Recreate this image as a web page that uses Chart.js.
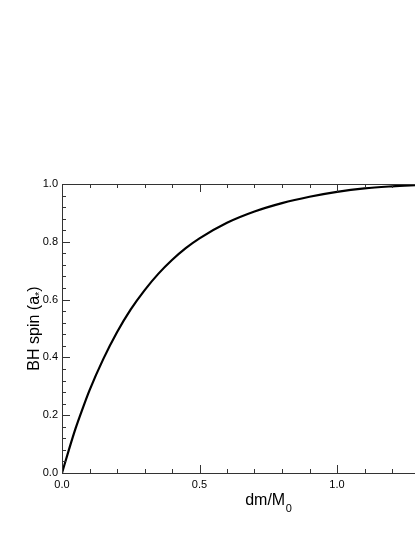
<!DOCTYPE html>
<html>
<head>
<meta charset="utf-8">
<script src="https://cdn.jsdelivr.net/npm/chart.js@4/dist/chart.umd.min.js"></script>
<style>
	html, body { margin:0; padding:0; background:#fff; overflow:hidden; }
	#wrap { width:475px; height:537px; }
</style>
</head>
<body>
<div id="wrap"><canvas id="spinChart" width="475" height="537"></canvas></div>
<script>
// accreted mass dm/M0 and resulting spin
var dmValues = [0, 0.025, 0.05, 0.075, 0.1, 0.15, 0.2, 0.25, 0.3, 0.35, 0.4, 0.45, 0.5, 0.6, 0.7, 0.8, 0.9, 1.0, 1.1, 1.2, 1.3];
var spinValues = [0, 0.08, 0.156, 0.223, 0.286, 0.394, 0.487, 0.566, 0.632, 0.689, 0.737, 0.778, 0.812, 0.866, 0.905, 0.934, 0.956, 0.973, 0.985, 0.992, 0.997];
var xTickLabels = ["0.0", "0.5", "1.0", "1.5"];
var yTickLabels = ["0.0", "0.2", "0.4", "0.6", "0.8", "1.0"];

var FONT = '"Liberation Sans", Arial, Helvetica, sans-serif';
var AXIS_COLOR = '#333';

//inward tick marks + frame + axis titles
var frameTicks = {
	id:'frameTicks',
	afterDraw:function (chart) {
		const ctx = chart.ctx;
		const a = chart.chartArea;
		const xs = chart.scales.x;
		const ys = chart.scales.y;
		ctx.save();
		ctx.strokeStyle = AXIS_COLOR;
		ctx.lineWidth = 1;
		ctx.beginPath();
		ctx.moveTo(a.left, a.top + 0.5);
		ctx.lineTo(a.right, a.top + 0.5);
		ctx.moveTo(a.right - 0.5, a.top);
		ctx.lineTo(a.right - 0.5, a.bottom);
		for (let i = 0; i <= 15; i++) {
			let px = Math.round(xs.getPixelForValue(i / 10)) + 0.5;
			let len = (i % 5 === 0) ? 8 : 4;
			ctx.moveTo(px, a.bottom);
			ctx.lineTo(px, a.bottom - len);
			ctx.moveTo(px, a.top);
			ctx.lineTo(px, a.top + len);
		}
		for (let i = 0; i <= 25; i++) {
			let py = Math.round(ys.getPixelForValue(i * 0.04)) + 0.5;
			let len = (i % 5 === 0) ? 8 : 4;
			ctx.moveTo(a.left, py);
			ctx.lineTo(a.left + len, py);
			ctx.moveTo(a.right, py);
			ctx.lineTo(a.right - len, py);
		}
		ctx.stroke();

		ctx.fillStyle = '#000';
		ctx.textBaseline = 'alphabetic';
		ctx.textAlign = 'left';
		//x title dm/M0
		ctx.font = '16px ' + FONT;
		let t1 = 'dm/M';
		let w1 = ctx.measureText(t1).width;
		ctx.font = '11px ' + FONT;
		let w2 = ctx.measureText('0').width;
		let cx = (a.left + a.right) / 2;
		let sx = cx - (w1 + w2) / 2;
		ctx.font = '16px ' + FONT;
		ctx.fillText(t1, sx, 505);
		ctx.font = '11px ' + FONT;
		ctx.fillText('0', sx + w1 + 0.5, 512);

		//y title BH spin (a*)
		ctx.translate(39, (a.top + a.bottom) / 2);
		ctx.rotate(-Math.PI / 2);
		ctx.font = '16px ' + FONT;
		let p1 = 'BH spin (a';
		let q1 = ctx.measureText(p1).width;
		let q3 = ctx.measureText(')').width;
		ctx.font = '11px ' + FONT;
		let q2 = ctx.measureText('*').width;
		let start = -(q1 + q2 + q3) / 2;
		ctx.font = '16px ' + FONT;
		ctx.fillText(p1, start, 0);
		ctx.font = '11px ' + FONT;
		ctx.fillText('*', start + q1, 4);
		ctx.font = '16px ' + FONT;
		ctx.fillText(')', start + q1 + q2, 0);
		ctx.restore();
	}
};

var points = dmValues.map(function (v, i) {
	return {x:v, y:spinValues[i]};
});

var ctx = document.getElementById('spinChart').getContext('2d');
var spinChart = new Chart(ctx, {
	type:'line',
	data:{
		datasets:[
			{
				data:points,
				borderColor:'#000',
				borderWidth:2.2,
				pointRadius:0,
				fill:false,
				cubicInterpolationMode:'monotone'
			}
		]
	},
	options:{
		responsive:false,
		animation:false,
		layout:{
			padding:{top:184, left:0, right:0.5, bottom:0}
		},
		plugins:{
			legend:{display:false},
			tooltip:{enabled:false}
		},
		scales:{
			x:{
				type:'linear',
				min:0,
				max:1.5,
				grid:{display:true, drawOnChartArea:false, drawTicks:false},
				border:{display:true, color:AXIS_COLOR, width:1},
				ticks:{
					stepSize:0.5,
					padding:5,
					color:'#000',
					font:{family:FONT, size:11},
					maxRotation:0,
					callback:function (v) {
						return xTickLabels[Math.round(v / 0.5)];
					}
				},
				afterFit:function (scale) {
					scale.height = 64;
					scale.paddingLeft = 0;
					scale.paddingRight = 0;
				}
			},
			y:{
				min:0,
				max:1,
				grid:{display:true, drawOnChartArea:false, drawTicks:false},
				border:{display:true, color:AXIS_COLOR, width:1},
				ticks:{
					stepSize:0.2,
					padding:4,
					color:'#000',
					font:{family:FONT, size:11},
					callback:function (v) {
						return yTickLabels[Math.round(v / 0.2)];
					}
				},
				afterFit:function (scale) {
					scale.width = 62;
					scale.paddingTop = 0;
					scale.paddingBottom = 0;
				}
			}
		}
	},
	plugins:[frameTicks]
});
</script>
</body>
</html>
